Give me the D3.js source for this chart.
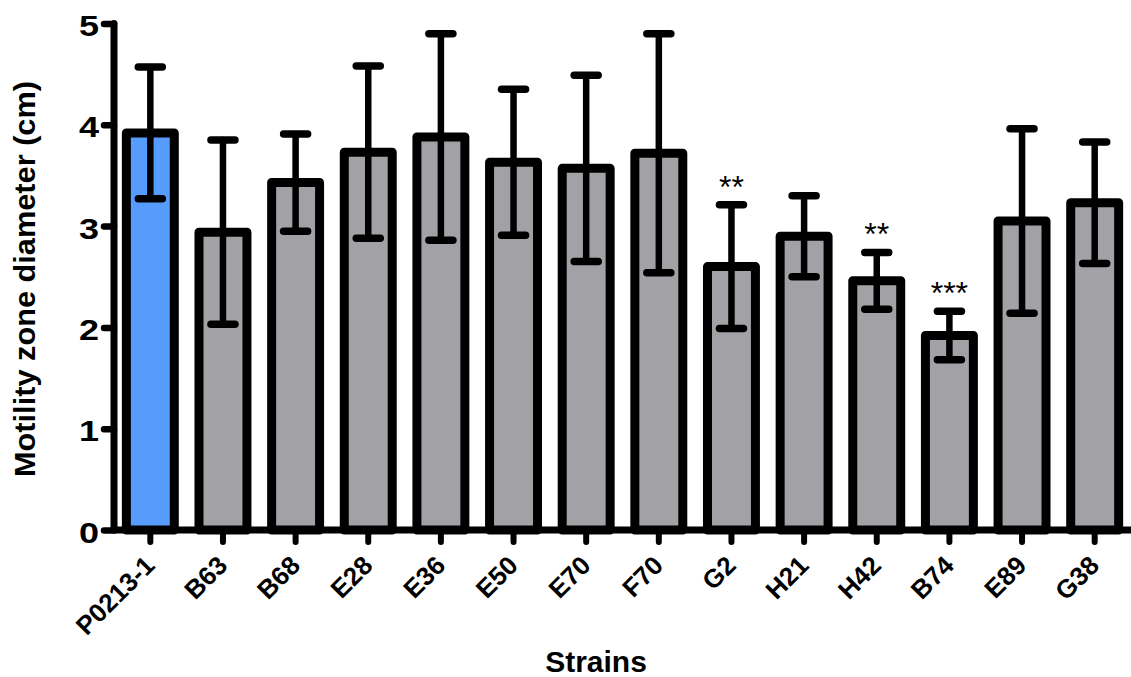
<!DOCTYPE html>
<html>
<head>
<meta charset="utf-8">
<script src="https://cdn.jsdelivr.net/npm/d3@7"></script>
<style>
  html, body { margin: 0; padding: 0; background: #fff; }
  svg { display: block; font-family: "Liberation Sans", Arial, sans-serif; }
</style>
</head>
<body>
<svg id="chart" width="1131" height="677"></svg>
<script>
// Motility zone diameter (mean ± SD) per strain
const strains = ["P0213-1", "B63", "B68", "E28", "E36", "E50", "E70", "F70", "G2", "H21", "H42", "B74", "E89", "G38"];
const means   = [3.92, 2.94, 3.43, 3.73, 3.88, 3.63, 3.57, 3.72, 2.60, 2.90, 2.46, 1.92, 3.05, 3.23];
const sds     = [0.65, 0.91, 0.48, 0.85, 1.02, 0.72, 0.92, 1.18, 0.61, 0.40, 0.28, 0.24, 0.91, 0.60];
const stars   = ["", "", "", "", "", "", "", "", "**", "", "**", "***", "", ""];
const yTicks  = [0, 1, 2, 3, 4, 5];

const data = strains.map((s, i) => ({ strain: s, mean: means[i], sd: sds[i], star: stars[i], ref: i === 0 }));

const svg = d3.select("#chart");
const width = 1131, height = 677;
const plot = { left: 114, right: 1131, top: 23.5, bottom: 530 };
const font = "'Liberation Sans', Arial, sans-serif";

const x = d3.scaleBand()
  .domain(strains)
  .range([plot.left, plot.right])
  .paddingInner(0.34)
  .paddingOuter(0.17);

const y = d3.scaleLinear()
  .domain([0, 5])
  .range([plot.bottom, plot.top]);

svg.append("rect").attr("width", width).attr("height", height).attr("fill", "#fff");

// bars
svg.append("g").selectAll("rect")
  .data(data)
  .join("rect")
  .attr("x", d => x(d.strain))
  .attr("width", x.bandwidth())
  .attr("y", d => y(d.mean))
  .attr("height", d => y(0) - y(d.mean))
  .attr("fill", d => d.ref ? "#559cfd" : "#a2a2a6")
  .attr("stroke", "#000")
  .attr("stroke-width", 9)
  .attr("stroke-linejoin", "round");

// error bars
const eb = svg.append("g")
  .attr("stroke", "#000")
  .attr("stroke-linecap", "round");
const cx = d => x(d.strain) + x.bandwidth() / 2;
eb.selectAll("line.v")
  .data(data)
  .join("line")
  .attr("class", "v")
  .attr("x1", cx).attr("x2", cx)
  .attr("y1", d => y(d.mean + d.sd))
  .attr("y2", d => y(d.mean - d.sd))
  .attr("stroke-width", 6.5);
eb.selectAll("line.cap-hi")
  .data(data)
  .join("line")
  .attr("class", "cap-hi")
  .attr("x1", d => cx(d) - 12).attr("x2", d => cx(d) + 12)
  .attr("y1", d => y(d.mean + d.sd)).attr("y2", d => y(d.mean + d.sd))
  .attr("stroke-width", 7.5);
eb.selectAll("line.cap-lo")
  .data(data)
  .join("line")
  .attr("class", "cap-lo")
  .attr("x1", d => cx(d) - 12).attr("x2", d => cx(d) + 12)
  .attr("y1", d => y(d.mean - d.sd)).attr("y2", d => y(d.mean - d.sd))
  .attr("stroke-width", 7.5);

// significance markers
svg.append("g").selectAll("text")
  .data(data.filter(d => d.star))
  .join("text")
  .attr("x", cx)
  .attr("y", d => y(d.mean + d.sd) - 7)
  .attr("text-anchor", "middle")
  .attr("font-size", 32)
  .attr("fill", "#000")
  .text(d => d.star);

// y axis
const yAxis = svg.append("g")
  .attr("transform", `translate(${plot.left},0)`)
  .call(d3.axisLeft(y).tickValues(yTicks).tickFormat(d3.format("d")).tickSize(10).tickPadding(5));
yAxis.select(".domain").remove();
yAxis.selectAll(".tick line").attr("stroke", "#000").attr("stroke-width", 6.5).attr("stroke-linecap", "round");
yAxis.selectAll(".tick text")
  .attr("font-family", font)
  .attr("font-size", 30).attr("font-weight", "bold").attr("fill", "#000")
  .attr("x", -15 / 1.2)
  .attr("dy", "0.4em")
  .attr("transform", "scale(1.2,1)");
yAxis.append("line")
  .attr("x1", 0).attr("x2", 0)
  .attr("y1", y(5)).attr("y2", y(0))
  .attr("stroke", "#000").attr("stroke-width", 7).attr("stroke-linecap", "round");

// x axis
const xAxis = svg.append("g")
  .attr("transform", `translate(0,${plot.bottom})`)
  .call(d3.axisBottom(x).tickSize(12).tickPadding(4));
xAxis.select(".domain").remove();
xAxis.selectAll(".tick line").attr("stroke", "#000").attr("stroke-width", 6).attr("stroke-linecap", "round");
xAxis.selectAll(".tick text")
  .attr("font-family", font)
  .attr("font-size", 26).attr("font-weight", "bold").attr("fill", "#000")
  .attr("text-anchor", "end")
  .attr("dy", null)
  .attr("y", 0)
  .attr("transform", "translate(6,37) rotate(-45)");
xAxis.append("line")
  .attr("x1", plot.left).attr("x2", plot.right)
  .attr("y1", 0).attr("y2", 0)
  .attr("stroke", "#000").attr("stroke-width", 7);

// axis titles
svg.append("text")
  .attr("transform", `translate(35,279) rotate(-90)`)
  .attr("text-anchor", "middle")
  .attr("font-size", 29).attr("font-weight", "bold")
  .attr("textLength", 396).attr("lengthAdjust", "spacingAndGlyphs")
  .text("Motility zone diameter (cm)");

svg.append("text")
  .attr("x", 596).attr("y", 672)
  .attr("text-anchor", "middle")
  .attr("font-size", 30).attr("font-weight", "bold")
  .text("Strains");
</script>
</body>
</html>
